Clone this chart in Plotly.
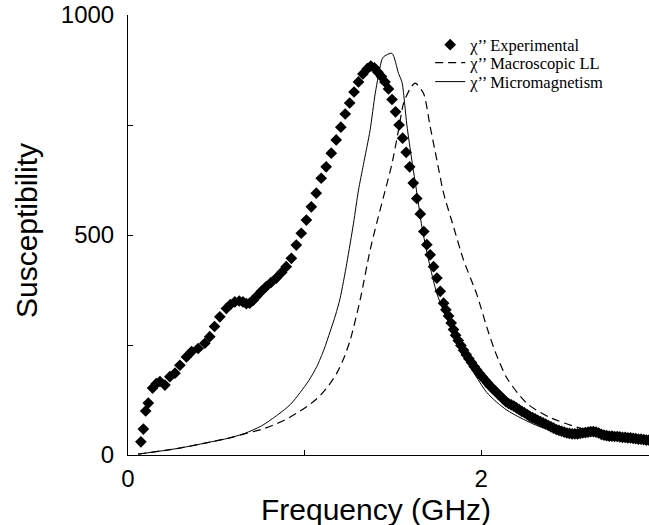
import plotly.graph_objects as go

# Experimental chi'' (frequency GHz, susceptibility)
exp_f = [0.073, 0.087, 0.10, 0.115, 0.139, 0.16, 0.181, 0.209, 0.237, 0.266, 0.294, 0.331, 0.36, 0.397,
         0.435, 0.463, 0.49, 0.52, 0.557, 0.58, 0.605, 0.63, 0.651, 0.67, 0.689, 0.71, 0.727, 0.755, 0.783,
         0.81, 0.84, 0.87, 0.896, 0.925, 0.953, 0.981, 1.01, 1.038, 1.066, 1.094, 1.122, 1.151, 1.179,
         1.205, 1.23, 1.255, 1.28, 1.305, 1.33, 1.355, 1.375, 1.395, 1.415, 1.435, 1.455, 1.475, 1.495,
         1.515, 1.535, 1.555, 1.575, 1.595, 1.615, 1.635, 1.655, 1.675, 1.692, 1.711, 1.73, 1.749, 1.768,
         1.787, 1.80, 1.815, 1.83, 1.843, 1.855, 1.87, 1.885, 1.90, 1.915, 1.93, 1.945, 1.96, 1.975, 1.99,
         2.005, 2.02, 2.035, 2.05, 2.065, 2.08, 2.095, 2.11, 2.125, 2.14, 2.155, 2.17, 2.185, 2.20, 2.215,
         2.23, 2.245, 2.26, 2.275, 2.29, 2.305, 2.32, 2.335, 2.35, 2.365, 2.38, 2.395, 2.41, 2.425, 2.44,
         2.455, 2.47, 2.485, 2.50, 2.515, 2.53, 2.545, 2.56, 2.575, 2.59, 2.605, 2.62, 2.635, 2.65, 2.665,
         2.68, 2.695, 2.71, 2.725, 2.74, 2.755, 2.77, 2.785, 2.80, 2.815, 2.83, 2.845, 2.86, 2.875, 2.89,
         2.905, 2.92, 2.935, 2.95]
exp_chi = [30, 59, 100, 118, 152, 162, 167, 159, 178, 186, 204, 223, 235, 242,
           254, 269, 292, 314, 333, 342, 348, 350, 348, 344, 345, 352, 360, 372, 383,
           392, 402, 415, 428, 447, 477, 504, 534, 564, 595, 629, 655, 686, 716,
           745, 775, 800, 825, 848, 866, 878, 884, 880, 870, 860, 848, 832, 808,
           780, 750, 720, 688, 655, 618, 583, 548, 508, 478, 455, 428, 402, 372,
           345, 330, 316, 300, 285, 272, 260, 249, 238, 228, 219, 210, 201, 193, 185,
           178, 171, 164, 157, 151, 145, 139, 133, 127, 121, 117, 114, 111, 107, 103,
           99, 96, 92, 88, 85, 82, 79, 76, 73, 70, 67, 64, 61, 58, 56,
           54, 52, 50, 49, 48, 48, 48, 49, 50, 51, 52, 53, 53, 52, 50,
           47, 45, 44, 43, 43, 42, 42, 41, 40, 40, 39, 39, 38, 37, 36,
           36, 35, 34, 34]

# Macroscopic Landau-Lifshitz chi''
ll_f = [0.057, 0.283, 0.472, 0.567, 0.66, 0.755, 0.823, 0.89, 0.955, 1.02, 1.088, 1.14, 1.182, 1.22,
        1.258, 1.314, 1.371, 1.41, 1.447, 1.494, 1.532, 1.56, 1.598, 1.626, 1.673, 1.711, 1.749, 1.787,
        1.843, 1.90, 1.975, 2.032, 2.079, 2.145, 2.259, 2.39, 2.56, 2.7, 2.95]
ll_chi = [2, 15, 30, 38, 48, 58, 68, 80, 95, 112, 135, 160, 186, 218,
          261, 352, 466, 530, 587, 661, 739, 799, 833, 845, 822, 746, 670, 595,
          519, 443, 365, 290, 235, 175, 117, 85, 61, 48, 36]

# Micromagnetism chi''
mm_f = [0.057, 0.283, 0.472, 0.567, 0.66, 0.755, 0.85, 0.92, 0.975, 1.025, 1.069, 1.11, 1.144, 1.175,
        1.201, 1.239, 1.277, 1.305, 1.333, 1.371, 1.40, 1.437, 1.447, 1.494, 1.532, 1.551, 1.579, 1.607,
        1.636, 1.664, 1.702, 1.749, 1.80, 1.843, 1.90, 2.032, 2.145, 2.334, 2.5, 2.7, 2.95]
mm_chi = [2, 15, 30, 38, 49, 66, 92, 115, 142, 170, 201, 240, 280, 318,
          356, 436, 527, 602, 660, 739, 822, 898, 905, 913, 867, 848, 750, 670,
          595, 519, 443, 367, 315, 282, 228, 142, 102, 64, 50, 42, 34]

x_ticks = [0, 1, 2]
x_labels = ["0", "", "2"]
y_ticks = [0, 250, 500, 750, 1000]
y_labels = ["0", "", "500", "", "1000"]

fig = go.Figure()
fig.add_trace(go.Scatter(x=mm_f, y=mm_chi, mode="lines", name="χ’’ Micromagnetism", legend="legend3",
                         line=dict(color="black", width=1, shape="spline", smoothing=0.7)))
fig.add_trace(go.Scatter(x=ll_f, y=ll_chi, mode="lines", name="χ’’ Macroscopic LL", legend="legend2",
                         line=dict(color="black", width=1.2, dash="8px,5px", shape="spline", smoothing=0.7)))
fig.add_trace(go.Scatter(x=exp_f, y=exp_chi, mode="markers", name="χ’’ Experimental", legend="legend",
                         marker=dict(symbol="diamond", size=9, color="black")))

leg_font = dict(family="Liberation Serif, Times New Roman", size=16.5, color="black")
leg_common = dict(x=0.58, xanchor="left", yanchor="middle", bgcolor="rgba(0,0,0,0)", font=leg_font)
axis_font = dict(family="Liberation Sans, Arial", size=24, color="black")
title_font = dict(family="Liberation Sans, Arial", size=30, color="black")

fig.update_layout(
    width=649, height=525,
    margin=dict(l=128, r=0, t=15, b=70),
    paper_bgcolor="white", plot_bgcolor="white",
    showlegend=True,
    legend=dict(y=0.932, **leg_common),
    legend2=dict(y=0.891, **leg_common),
    legend3=dict(y=0.848, **leg_common),
    xaxis=dict(range=[0, 2.95], tickvals=x_ticks, ticktext=x_labels, ticks="inside", ticklen=5,
               tickcolor="black", showline=True, linecolor="black", linewidth=1, showgrid=False,
               zeroline=False, tickfont=axis_font, ticklabelstandoff=2),
    yaxis=dict(range=[0, 1000], tickvals=y_ticks, ticktext=y_labels, ticks="inside", ticklen=5,
               tickcolor="black", showline=True, linecolor="black", linewidth=1, showgrid=False,
               zeroline=False, tickfont=axis_font, ticklabelstandoff=8),
    annotations=[
        dict(text="Frequency (GHz)", xref="paper", yref="paper", x=0.476, y=-0.124,
             xanchor="center", yanchor="middle", showarrow=False, font=title_font),
        dict(text="Susceptibility", xref="paper", yref="paper", x=-0.196, y=0.511, textangle=-90,
             xanchor="center", yanchor="middle", showarrow=False, font=title_font),
    ],
)

fig.write_html("out.html")
